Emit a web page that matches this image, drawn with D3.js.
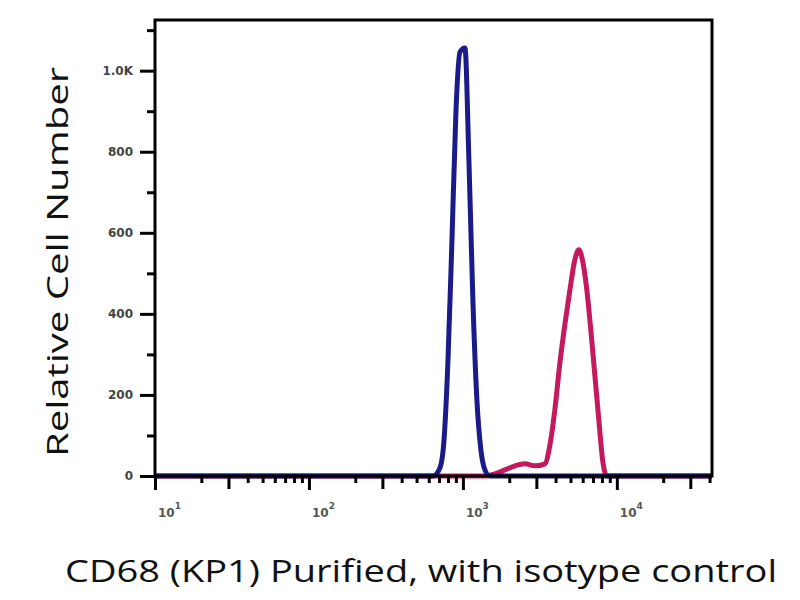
<!DOCTYPE html>
<html><head><meta charset="utf-8">
<script src="https://cdn.jsdelivr.net/npm/d3@7"></script>
<style>body{margin:0;background:#fff}</style>
</head><body>
<script>
// ---- data ----
const isotypeX = [10, 638, 709, 754, 800, 849, 902, 957, 1031, 1094, 1161, 1233, 1309, 1390, 1496, 41500];
const isotypeY = [0, 0, 20, 89, 286, 582, 903, 1046, 1056, 780, 434, 188, 64, 15, 0, 0];
const cd68X = [10, 1390, 1614, 1875, 2178, 2530, 2938, 3407, 3673, 3955, 4266, 4592, 4955, 5333, 5662, 6012, 6383, 6776, 7194, 7638, 8110, 8610, 41500];
const cd68Y = [0, 0, 5, 15, 25, 30, 25, 30, 76, 163, 279, 373, 459, 533, 558, 528, 459, 360, 249, 138, 35, 0, 0];
const yTickValues = [0, 200, 400, 600, 800, 1000];
const yTickLabels = ["0", "200", "400", "600", "800", "1.0K"];
const xTickValues = [10, 100, 1000, 10000];
const xTickExps = ["1", "2", "3", "4"];
const titleText = "CD68 (KP1) Purified, with isotype control";
const yTitle = "Relative Cell Number";

(function () {
const W = 800, H = 600;
const svg = d3.select("body").append("svg").attr("width", W).attr("height", H);
const pL = 155, pR = 712, pT = 20, pB = 476;

const x = d3.scaleLog().domain([10, 41500]).range([pL, pR]);
const y = d3.scaleLinear().domain([0, 1125]).range([pB, pT]);

// curves
const line = d3.line().x(d => x(d[0])).y(d => y(d[1])).curve(d3.curveMonotoneX);
const iso = isotypeX.map((v, i) => [v, isotypeY[i]]);
const cd = cd68X.map((v, i) => [v, cd68Y[i]]);
svg.append("path").attr("d", line(cd)).attr("fill", "none")
  .attr("stroke", "#c4195c").attr("stroke-width", 5).attr("stroke-linejoin", "round");
svg.append("path").attr("d", line(iso)).attr("fill", "none")
  .attr("stroke", "#1a1a8a").attr("stroke-width", 5).attr("stroke-linejoin", "round");

// frame
svg.append("rect").attr("x", pL).attr("y", pT).attr("width", pR - pL).attr("height", pB - pT)
  .attr("fill", "none").attr("stroke", "#000").attr("stroke-width", 3);

// y axis
const yMinor = d3.range(100, 1125, 200);
const yAx = svg.append("g").attr("transform", `translate(${pL},0)`);
yAx.call(d3.axisLeft(y).tickValues(yTickValues).tickSize(15).tickFormat((d, i) => yTickLabels[i]));
yAx.select(".domain").remove();
yAx.selectAll(".tick line").attr("stroke", "#000").attr("stroke-width", 3);
yAx.selectAll(".tick text").attr("font-family", "DejaVu Sans").attr("font-size", 12)
  .attr("font-weight", "bold").attr("fill", "#444").attr("dx", -4);
const yAx2 = svg.append("g").attr("transform", `translate(${pL},0)`);
yAx2.call(d3.axisLeft(y).tickValues(yMinor).tickSize(8).tickFormat(""));
yAx2.select(".domain").remove();
yAx2.selectAll(".tick line").attr("stroke", "#000").attr("stroke-width", 3);

// x axis
const xMinor = [];
[10, 100, 1000, 10000].forEach(d => { for (let k = 2; k <= 9; k++) if (d * k <= 41500) xMinor.push(d * k); });
const xAx2 = svg.append("g").attr("transform", `translate(0,${pB})`);
xAx2.call(d3.axisBottom(x).tickValues(xMinor).tickSizeInner(7).tickSizeOuter(0).tickFormat(""));
xAx2.select(".domain").remove();
xAx2.selectAll(".tick line").attr("stroke", "#000").attr("stroke-width", 3)
  .attr("y2", d => (String(d)[0] === "3" ? 13 : 7));
const xAx = svg.append("g").attr("transform", `translate(0,${pB})`);
xAx.call(d3.axisBottom(x).tickValues(xTickValues).tickSize(14).tickFormat(""));
xAx.select(".domain").remove();
xAx.selectAll(".tick line").attr("stroke", "#000").attr("stroke-width", 3);
xAx.selectAll(".tick").append("text")
  .attr("x", 14).attr("y", 41).attr("text-anchor", "middle")
  .attr("font-family", "DejaVu Sans").attr("font-size", 12).attr("font-weight", "bold").attr("fill", "#555")
  .each(function (d, i) {
    const t = d3.select(this);
    t.append("tspan").text("10");
    t.append("tspan").attr("dy", -8).attr("font-size", 9).text(xTickExps[i]);
  });

// titles
svg.append("text").attr("x", 421).attr("y", 582).attr("text-anchor", "middle")
  .attr("font-family", "Open Sans").attr("font-size", 31).attr("fill", "#111")
  .attr("textLength", 712).attr("lengthAdjust", "spacingAndGlyphs").text(titleText);
svg.append("text").attr("transform", "translate(68,262) rotate(-90)").attr("text-anchor", "middle")
  .attr("font-family", "Open Sans").attr("font-size", 30).attr("fill", "#111")
  .attr("textLength", 390).attr("lengthAdjust", "spacingAndGlyphs").text(yTitle);
})();
</script>
</body></html>
